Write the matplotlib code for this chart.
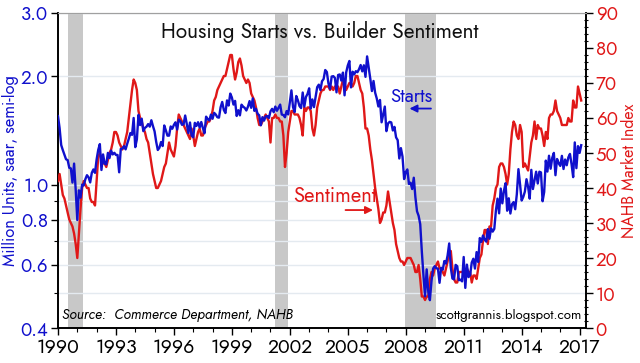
import matplotlib
matplotlib.use('Agg')
import matplotlib.pyplot as plt
import matplotlib.ticker as mticker
import numpy as np

plt.rcParams['font.family'] = ['Jost', 'Liberation Sans Narrow', 'DejaVu Sans']

# housing starts, thousands, saar (Jan 1990 - Feb 2017)
starts = [
    1551, 1437, 1289, 1248, 1212, 1177, 1171, 1115, 1110, 1014, 1145, 969,   # 1990
    798, 965, 921, 1001, 996, 1036, 1063, 1049, 1015, 1079, 1103, 1079,      # 1991
    1176, 1250, 1297, 1099, 1214, 1145, 1139, 1226, 1186, 1244, 1214, 1227,  # 1992
    1210, 1210, 1083, 1258, 1260, 1280, 1254, 1300, 1343, 1392, 1376, 1533,  # 1993
    1272, 1337, 1564, 1465, 1526, 1409, 1439, 1450, 1474, 1450, 1511, 1455,  # 1994
    1407, 1316, 1249, 1267, 1314, 1281, 1461, 1416, 1369, 1369, 1452, 1431,  # 1995
    1467, 1491, 1424, 1516, 1504, 1467, 1472, 1557, 1475, 1392, 1489, 1370,  # 1996
    1355, 1486, 1457, 1492, 1442, 1494, 1437, 1390, 1546, 1520, 1510, 1566,  # 1997
    1525, 1584, 1567, 1540, 1536, 1641, 1698, 1614, 1582, 1715, 1660, 1792,  # 1998
    1748, 1670, 1710, 1553, 1611, 1559, 1669, 1648, 1635, 1608, 1648, 1708,  # 1999
    1636, 1737, 1604, 1626, 1575, 1559, 1463, 1541, 1507, 1549, 1551, 1532,  # 2000
    1600, 1625, 1590, 1649, 1605, 1636, 1670, 1567, 1562, 1540, 1602, 1568,  # 2001
    1698, 1829, 1642, 1592, 1764, 1717, 1655, 1633, 1804, 1648, 1753, 1788,  # 2002
    1853, 1629, 1726, 1643, 1751, 1867, 1897, 1833, 1939, 1967, 2083, 2057,  # 2003
    1911, 1846, 1998, 2003, 1981, 1806, 2018, 2025, 1947, 2049, 1772, 2051,  # 2004
    2144, 2207, 1864, 2061, 2025, 2068, 2054, 2095, 2151, 2065, 2147, 1994,  # 2005
    2273, 2119, 1969, 1821, 1942, 1802, 1737, 1650, 1720, 1491, 1570, 1649,  # 2006
    1409, 1480, 1495, 1490, 1415, 1448, 1354, 1330, 1183, 1264, 1197, 1037,  # 2007
    1084, 1103, 1005, 1013, 973, 1046, 923, 844, 820, 777, 652, 560,         # 2008
    490, 582, 505, 478, 540, 585, 594, 586, 585, 534, 588, 581,              # 2009
    614, 604, 636, 687, 588, 549, 546, 599, 594, 543, 545, 539,              # 2010
    630, 517, 600, 554, 561, 608, 623, 585, 650, 610, 711, 694,              # 2011
    723, 704, 695, 753, 708, 757, 741, 754, 847, 915, 833, 976,              # 2012
    888, 962, 1010, 847, 917, 832, 883, 895, 855, 941, 1105, 1003,           # 2013
    904, 925, 957, 1036, 987, 915, 1100, 973, 1028, 1087, 1008, 1087,        # 2014
    1082, 900, 955, 1167, 1088, 1204, 1108, 1188, 1226, 1063, 1179, 1147,    # 2015
    1128, 1203, 1106, 1175, 1133, 1191, 1218, 1140, 1050, 1311, 1112, 1280,  # 2016
    1226, 1288,                                                              # 2017
]

# NAHB housing market index (Jan 1990 - Feb 2017)
sentiment = [
    42, 44, 41, 38, 37, 35, 33, 31, 30, 29, 27, 24,   # 1990
    20, 27, 34, 40, 42, 41, 40, 40, 37, 36, 36, 35,   # 1991
    42, 49, 50, 48, 47, 47, 46, 48, 50, 51, 53, 56,   # 1992
    56, 55, 53, 52, 51, 52, 54, 56, 60, 64, 68, 71,   # 1993
    70, 68, 62, 60, 59, 57, 56, 54, 53, 50, 47, 44,   # 1994
    42, 40, 40, 41, 42, 44, 46, 47, 50, 53, 51, 50,   # 1995
    49, 52, 57, 61, 60, 59, 58, 57, 56, 55, 54, 57,   # 1996
    55, 52, 54, 56, 57, 55, 55, 57, 58, 59, 59, 60,   # 1997
    62, 65, 66, 68, 69, 70, 71, 72, 72, 74, 76, 78,   # 1998
    78, 74, 71, 73, 76, 77, 75, 72, 71, 70, 71, 70,   # 1999
    67, 66, 65, 63, 60, 58, 58, 59, 60, 61, 60, 59,   # 2000
    53, 60, 60, 61, 60, 60, 59, 59, 55, 46, 50, 56,   # 2001
    59, 62, 62, 61, 61, 61, 60, 58, 55, 63, 62, 63,   # 2002
    63, 62, 57, 55, 58, 63, 65, 67, 68, 68, 69, 69,   # 2003
    69, 68, 69, 68, 69, 69, 69, 67, 69, 71, 70, 68,   # 2004
    69, 70, 70, 69, 70, 72, 72, 70, 68, 67, 63, 57,   # 2005
    57, 55, 51, 48, 44, 40, 37, 34, 30, 31, 33, 33,   # 2006
    35, 39, 36, 33, 30, 28, 24, 22, 20, 19, 19, 18,   # 2007
    19, 20, 20, 20, 19, 18, 16, 16, 18, 14, 9, 9,     # 2008
    8, 9, 9, 14, 16, 15, 17, 18, 19, 17, 17, 16,      # 2009
    15, 17, 19, 22, 22, 17, 14, 13, 13, 16, 16, 16,   # 2010
    16, 16, 17, 16, 16, 13, 15, 15, 14, 17, 20, 21,   # 2011
    25, 28, 28, 24, 29, 29, 35, 37, 40, 41, 46, 47,   # 2012
    47, 46, 44, 41, 44, 51, 56, 59, 58, 55, 54, 58,   # 2013
    56, 46, 47, 46, 45, 49, 53, 55, 59, 54, 58, 57,   # 2014
    57, 55, 52, 56, 54, 60, 61, 61, 62, 65, 62, 61,   # 2015
    60, 58, 58, 58, 58, 60, 59, 59, 65, 63, 63, 69,   # 2016
    67, 65,                                           # 2017
]

recessions = [(1990.53, 1991.3), (2001.25, 2001.92), (2007.95, 2009.55)]
year_ticks = list(range(1990, 2018, 3))
left_ticks = [0.4, 0.6, 0.8, 1.0, 2.0, 3.0]
left_minor = [0.5, 0.7, 0.9]

BLUE = '#1010cc'
RED = '#e01818'

t = 1990 + np.arange(len(starts)) / 12.0
s = np.array(starts) / 1000.0

fig = plt.figure(figsize=(6.4, 3.63), dpi=100)
ax1 = fig.add_axes([0.0906, 0.0964, 0.825, 0.8678])
ax2 = ax1.twinx()

# recession bands
for a, b in recessions:
    ax1.axvspan(a, b, color='#c8c8c8', lw=0, zorder=0)

ax1.set_yscale('log')
ax1.set_ylim(0.4, 3.0)
ax1.set_xlim(1990, 2017.33)
ax1.yaxis.set_major_locator(mticker.FixedLocator(left_ticks))
ax1.yaxis.set_minor_locator(mticker.FixedLocator(left_minor))
ax1.yaxis.set_major_formatter(mticker.FormatStrFormatter('%.1f'))
ax1.yaxis.set_minor_formatter(mticker.NullFormatter())
ax1.grid(True, which='both', axis='y', color='#e4eaf0', lw=1.0, zorder=0)
ax1.set_axisbelow(True)

ax1.xaxis.set_major_locator(mticker.FixedLocator(year_ticks))
ax1.xaxis.set_minor_locator(mticker.MultipleLocator(1))
ax1.xaxis.set_major_formatter(mticker.FormatStrFormatter('%d'))

# sentiment on the right axis
ax2.plot(t, sentiment, color=RED, lw=1.7, zorder=3)
ax2.set_ylim(0, 90)
ax2.yaxis.set_major_locator(mticker.MultipleLocator(10))
ax2.yaxis.set_minor_locator(mticker.MultipleLocator(2))

# starts drawn on top, sharing the left log scale
ax3 = ax1.twinx()
ax3.set_yscale('log')
ax3.set_ylim(0.4, 3.0)
ax3.plot(t, s, color=BLUE, lw=1.7, zorder=4)
ax3.axis('off')

ax1.tick_params(axis='x', which='major', length=5, width=1, labelsize=14, pad=2, colors='black')
ax1.tick_params(axis='x', which='minor', length=3, width=0.8)
ax1.tick_params(axis='y', which='major', length=5, width=1, labelsize=13.5, labelcolor=BLUE, pad=2)
ax1.tick_params(axis='y', which='minor', length=3, width=0.8)
ax2.tick_params(axis='y', which='major', length=5, width=1, labelsize=13.5, labelcolor=RED, pad=2)
ax2.tick_params(axis='y', which='minor', length=3, width=0.8, direction='inout')

for a in (ax1, ax2):
    a.spines['top'].set_color('#a0a0a0')
    for side in ('left', 'right', 'bottom'):
        a.spines[side].set_color('black')
        a.spines[side].set_linewidth(1.2)

ax1.set_ylabel('Million Units, saar, semi-log', color=BLUE, fontsize=11.8, labelpad=1)
ax2.set_ylabel('NAHB Market Index', color=RED, fontsize=11.5, labelpad=1.5)

ax1.text(0.496, 0.922, 'Housing Starts vs. Builder Sentiment', transform=ax1.transAxes,
         fontsize=15, ha='center', va='baseline', color='#111111')

ax1.text(0.008, 0.02, 'Source:  Commerce Department, NAHB', transform=ax1.transAxes,
         fontsize=10, style='italic', ha='left', va='bottom')
ax1.text(0.993, 0.02, 'scottgrannis.blogspot.com', transform=ax1.transAxes,
         fontsize=9.5, ha='right', va='bottom')

ax2.text(2008.3, 64.6, 'Starts', color=BLUE, fontsize=13.5, ha='center', va='baseline')
ax2.annotate('', xy=(2008.05, 62.7), xytext=(2009.45, 62.7),
             arrowprops=dict(arrowstyle='-|>', color=BLUE, lw=1.3, mutation_scale=11))
ax2.text(2004.33, 36.0, 'Sentiment', color=RED, fontsize=14.5, ha='center', va='baseline')
ax2.annotate('', xy=(2006.45, 33.7), xytext=(2004.74, 33.7),
             arrowprops=dict(arrowstyle='-|>', color=RED, lw=1.3, mutation_scale=11))

fig.savefig('out.png', dpi=100)
